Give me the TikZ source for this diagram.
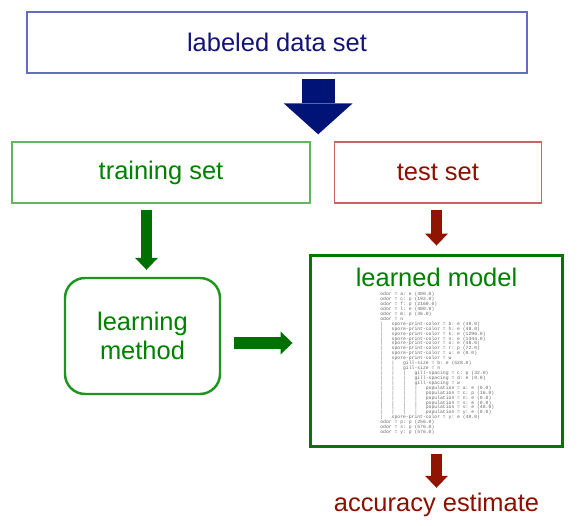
\documentclass[tikz,border=0pt]{standalone}
\usepackage{fontspec}
\setmainfont{Liberation Sans}
\setmonofont{Liberation Mono}
\definecolor{setBlue}{RGB}{20,20,120}
\definecolor{setFrame}{RGB}{100,110,190}
\definecolor{arrowBlue}{RGB}{0,20,120}
\definecolor{trainGreen}{RGB}{0,128,0}
\definecolor{trainFrame}{RGB}{100,180,100}
\definecolor{methodFrame}{RGB}{30,150,30}
\definecolor{modelFrame}{RGB}{0,120,0}
\definecolor{arrowGreen}{RGB}{0,112,0}
\definecolor{testRed}{RGB}{140,15,0}
\definecolor{testFrame}{RGB}{200,100,100}
\definecolor{arrowRed}{RGB}{145,20,0}
\definecolor{treeGray}{RGB}{100,100,100}
\usetikzlibrary{arrows.meta,positioning,calc}
\newcommand{\tb}{|\phantom{xxx}}

\begin{document}
\begin{tikzpicture}[x=0.02cm, y=-0.02cm,
  part/.style={draw, line width=0.8pt, inner sep=0pt, minimum height=1.22cm,
               font=\fontsize{14.5}{16.5}\selectfont, align=center},
  dataset/.style={part, draw=setFrame, text=setBlue, minimum width=10cm},
  trainset/.style={part, draw=trainFrame, text=trainGreen, minimum width=5.96cm},
  testset/.style={part, draw=testFrame, text=testRed, minimum width=4.14cm},
  method/.style={part, draw=methodFrame, line width=1.4pt, rounded corners=0.4cm,
                 text=trainGreen, minimum width=3.1cm, minimum height=2.32cm},
  modelbox/.style={draw=modelFrame, line width=1.7pt, inner sep=0pt,
                   minimum width=5.06cm, minimum height=3.84cm},
  caption/.style={inner sep=0pt, font=\fontsize{14.5}{16.5}\selectfont},
  tree/.style={inner sep=0pt, align=left, text=treeGray,
               font=\ttfamily\fontsize{2.7}{2.8}\selectfont},
  block/.style={line width=0.23cm, -{Triangle[width=0.46cm, length=0.24cm, line width=0pt]}},
  bigblock/.style={line width=0.66cm, -{Triangle[width=1.38cm, length=0.62cm, line width=0pt]}}
]
  \useasboundingbox (0,0) rectangle (579,526);

  \node[dataset]                      (data)  at (277,42.5) {labeled data set};
  \node[trainset]                     (train) at (161,172.5) {training set};
  \node[testset, right=0.46cm of train] (test) {test set};

  \node[method]                       (learn) at (142.5,336) {learning\\method};
  \node[modelbox]                     (model) at (436.5,351) {};
  \node[caption, text=trainGreen]     (mtitle) at (436.5,277) {learned model};
  \node[tree, anchor=north west]      (mtree) at (380,292) {%
    odor = a: e (400.0)\\
    odor = c: p (192.0)\\
    odor = f: p (2160.0)\\
    odor = l: e (400.0)\\
    odor = m: p (36.0)\\
    odor = n\\
    \tb spore-print-color = b: e (48.0)\\
    \tb spore-print-color = h: e (48.0)\\
    \tb spore-print-color = k: e (1296.0)\\
    \tb spore-print-color = n: e (1344.0)\\
    \tb spore-print-color = o: e (48.0)\\
    \tb spore-print-color = r: p (72.0)\\
    \tb spore-print-color = u: e (0.0)\\
    \tb spore-print-color = w\\
    \tb\tb gill-size = b: e (528.0)\\
    \tb\tb gill-size = n\\
    \tb\tb\tb gill-spacing = c: p (32.0)\\
    \tb\tb\tb gill-spacing = d: e (0.0)\\
    \tb\tb\tb gill-spacing = w\\
    \tb\tb\tb\tb population = a: e (0.0)\\
    \tb\tb\tb\tb population = c: p (16.0)\\
    \tb\tb\tb\tb population = n: e (0.0)\\
    \tb\tb\tb\tb population = s: e (0.0)\\
    \tb\tb\tb\tb population = v: e (48.0)\\
    \tb\tb\tb\tb population = y: e (0.0)\\
    \tb spore-print-color = y: e (48.0)\\
    odor = p: p (256.0)\\
    odor = s: p (576.0)\\
    odor = y: p (576.0)};
  \node[caption, text=testRed]        (acc)   at (436.5,505) {accuracy estimate};

  % block arrows
  \coordinate (split) at ($(train.north east)!0.5!(test.north west)+(-4,0)$);
  \draw[bigblock, arrowBlue, shorten <=0.1cm, shorten >=0.14cm] (data.south -| split) -- (split);
  \draw[block, arrowGreen, shorten <=0.12cm, shorten >=0.14cm]
    ($(learn.north |- train.south)+(4,0)$) -- ($(learn.north)+(4,0)$);
  \draw[block, arrowGreen, shorten <=0.26cm, shorten >=0.32cm]
    ($(learn.east)+(0,7)$) -- ($(learn.east -| model.west)+(0,7)$);
  \draw[block, arrowRed, shorten <=0.12cm, shorten >=0.16cm] (model.north |- test.south) -- (model.north);
  \draw[block, arrowRed, shorten <=0.12cm, shorten >=0.1cm] (model.south) -- (acc.north);
\end{tikzpicture}
\end{document}
